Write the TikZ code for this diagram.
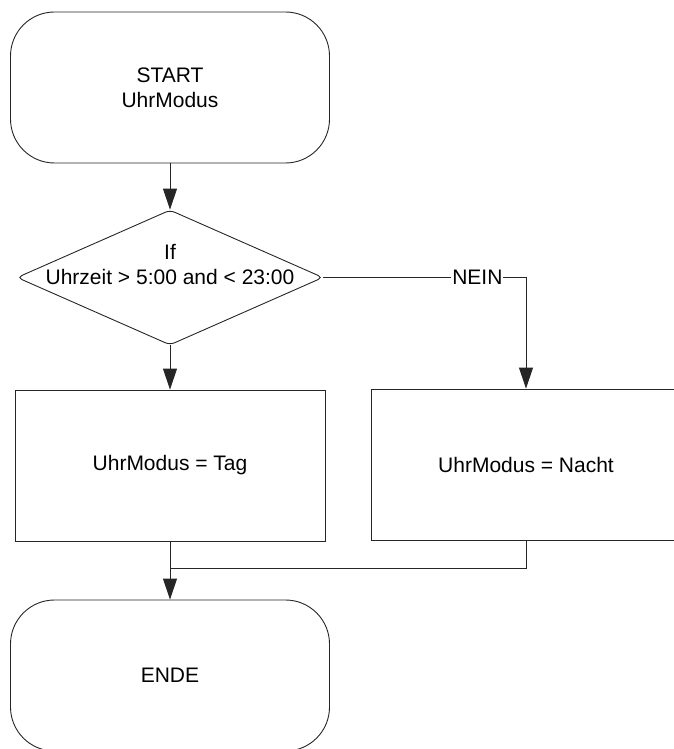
\documentclass[tikz,border=0pt]{standalone}
\usepackage{fontspec}
\setmainfont{Liberation Sans}
\usetikzlibrary{shapes.geometric,arrows.meta}
\begin{document}
\begin{tikzpicture}[x=1pt,y=-1pt,
  every node/.style={font=\fontsize{21}{25}\selectfont},
  terminal/.style={draw=black!85, line width=0.9pt, rounded corners=44pt, minimum width=319pt, minimum height=151pt, inner sep=0pt, align=center},
  procbox/.style={draw=black!85, line width=0.9pt, minimum width=310pt, minimum height=151pt, inner sep=0pt, align=center},
  decision/.style={draw=black!85, line width=0.9pt, diamond, rounded corners=5pt, minimum width=306pt, minimum height=135pt, inner sep=0pt},
  lbl/.style={align=center, inner sep=0pt},
  conn/.style={draw=black!85, line width=0.9pt},
  arr/.style={conn, -{Triangle[length=21pt,width=14pt]}},
  edgelbl/.style={fill=white, inner sep=1pt}
]
\useasboundingbox (0,0) rectangle (674,749);
\clip (0,0) rectangle (674,749);
\node[terminal] (start) at (170,87.5) {START\\UhrModus};
\node[decision] (if) at (170,277.5) {};
\node[lbl] (iftext) at (170,265) {If\\Uhrzeit > 5:00 and < 23:00};
\node[procbox] (tag) at (170,465.5) {UhrModus = Tag};
\node[procbox] (nacht) at (526,464.5) {UhrModus = Nacht};
\node[terminal] (ende) at (170,675.5) {ENDE};
\coordinate (j) at (170,568);
\draw[arr] (start.south) -- (if.north);
\draw[arr] (if.south) -- (tag.north);
\draw[arr] (if.east) -| node[pos=0.38, edgelbl] {NEIN} (nacht.north);
\draw[conn] (tag.south) -- (j);
\draw[conn] (nacht.south) |- (j);
\draw[arr] (j) -- (ende.north);
\end{tikzpicture}
\end{document}
